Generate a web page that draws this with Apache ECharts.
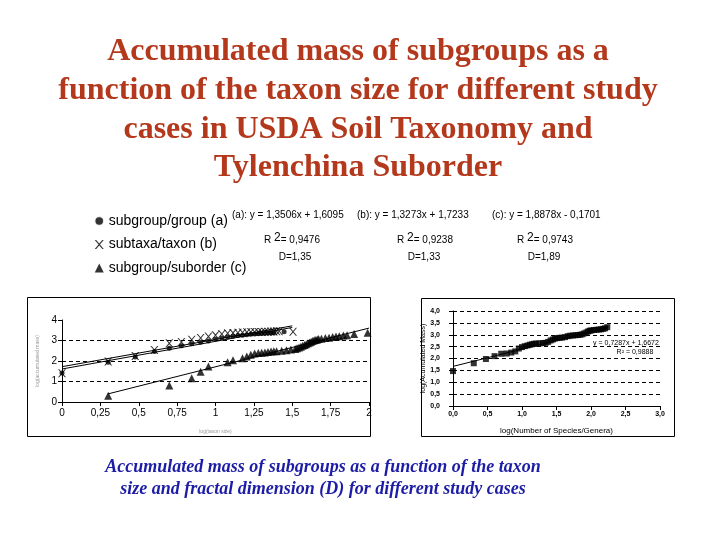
<!DOCTYPE html>
<html>
<head>
<meta charset="utf-8">
<title>Accumulated mass of subgroups</title>
<script src="https://cdn.jsdelivr.net/npm/echarts@6/dist/echarts.min.js"></script>
<style>
  html, body { margin: 0; padding: 0; background: #fff; }
  #chart { width: 720px; height: 540px; }
</style>
</head>
<body>
<div id="chart"></div>
<script>
// (a) subgroup/group
var groupX = [0, 0.301, 0.477, 0.602, 0.699, 0.778, 0.845, 0.903, 0.954, 1.0, 1.041, 1.079, 1.114, 1.146, 1.176, 1.204, 1.230, 1.255, 1.279, 1.301, 1.322, 1.342, 1.362, 1.380, 1.447];
var groupY = [1.42, 1.94, 2.20, 2.46, 2.62, 2.74, 2.84, 2.92, 2.98, 3.06, 3.12, 3.17, 3.21, 3.24, 3.26, 3.28, 3.30, 3.32, 3.33, 3.34, 3.35, 3.36, 3.37, 3.38, 3.43];
// (b) subtaxa/taxon
var taxonX = [0, 0.301, 0.477, 0.602, 0.699, 0.778, 0.845, 0.903, 0.954, 1.0, 1.041, 1.079, 1.114, 1.146, 1.176, 1.204, 1.230, 1.255, 1.279, 1.301, 1.322, 1.342, 1.362, 1.380, 1.398, 1.415, 1.505];
var taxonY = [1.40, 1.98, 2.24, 2.54, 2.86, 2.93, 3.04, 3.12, 3.19, 3.26, 3.32, 3.35, 3.37, 3.38, 3.39, 3.40, 3.41, 3.41, 3.42, 3.42, 3.43, 3.43, 3.44, 3.44, 3.45, 3.45, 3.43];
// (c) subgroup/suborder
var orderX = [0.301, 0.699, 0.845, 0.903, 0.954, 1.079, 1.114, 1.176, 1.204, 1.230, 1.255, 1.279, 1.301, 1.322, 1.342, 1.362, 1.380, 1.398, 1.431, 1.462, 1.491, 1.519, 1.531, 1.544, 1.556, 1.568, 1.580, 1.591, 1.602, 1.613, 1.623, 1.633, 1.643, 1.653, 1.663, 1.672, 1.690, 1.716, 1.740, 1.763, 1.785, 1.806, 1.833, 1.857, 1.903, 1.991];
var orderY = [0.31, 0.81, 1.16, 1.47, 1.73, 1.94, 2.04, 2.13, 2.22, 2.30, 2.36, 2.39, 2.40, 2.42, 2.44, 2.46, 2.47, 2.48, 2.50, 2.53, 2.56, 2.58, 2.62, 2.66, 2.70, 2.74, 2.78, 2.82, 2.86, 2.90, 2.94, 2.98, 3.01, 3.03, 3.05, 3.07, 3.09, 3.12, 3.14, 3.17, 3.19, 3.21, 3.24, 3.26, 3.32, 3.38];
// Tylenchina (right chart)
var tylX = [0, 0.301, 0.477, 0.602, 0.699, 0.778, 0.845, 0.903, 0.954, 1.0, 1.041, 1.079, 1.114, 1.146, 1.176, 1.204, 1.255, 1.301, 1.342, 1.380, 1.415, 1.447, 1.477, 1.505, 1.544, 1.580, 1.623, 1.663, 1.699, 1.740, 1.778, 1.813, 1.845, 1.875, 1.903, 1.934, 1.959, 1.982, 2.004, 2.041, 2.079, 2.114, 2.146, 2.176, 2.204, 2.236];
var tylY = [1.47, 1.80, 1.98, 2.10, 2.20, 2.21, 2.25, 2.30, 2.42, 2.48, 2.52, 2.55, 2.58, 2.60, 2.62, 2.63, 2.64, 2.65, 2.66, 2.70, 2.76, 2.80, 2.84, 2.86, 2.87, 2.88, 2.90, 2.94, 2.96, 2.97, 2.98, 2.99, 3.00, 3.02, 3.06, 3.10, 3.14, 3.17, 3.18, 3.20, 3.21, 3.22, 3.23, 3.25, 3.27, 3.32];

// regression lines: a, b, c, Tylenchina
var fitSlope = [1.3506, 1.3273, 1.8878, 0.7287];
var fitIntercept = [1.6095, 1.7233, -0.1701, 1.6672];
var fitRange = [[0, 1.5], [0, 1.5], [0.3, 2], [0, 2.25]];

var seriesNames = ['subgroup/group (a)', 'subtaxa/taxon (b)', 'subgroup/suborder (c)'];
var eqText = ['(a): y = 1,3506x + 1,6095', '(b): y = 1,3273x + 1,7233', '(c): y = 1,8878x - 0,1701'];
var r2Text = ['= 0,9476', '= 0,9238', '= 0,9743'];
var dText = ['D=1,35', 'D=1,33', 'D=1,89'];

var leftXLabels = ['0', '0,25', '0,5', '0,75', '1', '1,25', '1,5', '1,75', '2'];
var leftYLabels = ['0', '1', '2', '3', '4'];
var rightXLabels = ['0,0', '0,5', '1,0', '1,5', '2,0', '2,5', '3,0'];
var rightYLabels = ['0,0', '0,5', '1,0', '1,5', '2,0', '2,5', '3,0', '3,5', '4,0'];

var titleLines = ['Accumulated mass of subgroups as a', 'function of the taxon size for different study', 'cases in USDA Soil Taxonomy and', 'Tylenchina Suborder'];
var captionLines = ['Accumulated mass of subgroups as a function of the taxon', 'size and fractal dimension (D) for different study cases'];

function zip(xs, ys) {
  return xs.map(function (x, i) { return [x, ys[i]]; });
}
function fitLine(i) {
  var r = fitRange[i];
  return r.map(function (x) { return [x, +(fitSlope[i] * x + fitIntercept[i]).toFixed(4)]; });
}

var xMark = 'path://M0,0L1.6,0L5,4L8.4,0L10,0L5.8,5L10,10L8.4,10L5,6L1.6,10L0,10L4.2,5Z';

var myChart = echarts.init(document.getElementById('chart'));

var graphics = [];
titleLines.forEach(function (t, i) {
  graphics.push({
    type: 'text', x: 358, y: 52 + i * 38.7,
    style: { text: t, font: 'bold 32px "Liberation Serif"', fill: '#b3381c', align: 'center', verticalAlign: 'middle' }
  });
});
captionLines.forEach(function (t, i) {
  graphics.push({
    type: 'text', x: 323, y: 467 + i * 22,
    style: { text: t, font: 'italic bold 18px "Liberation Serif"', fill: '#1c1ca6', align: 'center', verticalAlign: 'middle' }
  });
});
var eqLeft = [232, 357, 492];
var r2Center = [292, 425, 545];
var dCenter = [295, 424, 544];
eqText.forEach(function (t, i) {
  graphics.push({
    type: 'text', x: eqLeft[i], y: 215,
    style: { text: t, font: '10px "Liberation Sans"', fill: '#000', align: 'left', verticalAlign: 'middle' }
  });
  graphics.push({
    type: 'text', x: r2Center[i], y: 239,
    style: {
      text: '{r|R }{s|2}{r|' + r2Text[i] + '}', align: 'center', verticalAlign: 'middle',
      rich: {
        r: { fontSize: 10, fontFamily: 'Liberation Sans', fill: '#000', padding: [3, 0, 0, 0] },
        s: { fontSize: 12, fontFamily: 'Liberation Sans', fill: '#000', padding: [0, 0, 3, 0] }
      }
    }
  });
  graphics.push({
    type: 'text', x: dCenter[i], y: 257,
    style: { text: dText[i], font: '10px "Liberation Sans"', fill: '#000', align: 'center', verticalAlign: 'middle' }
  });
});
// chart frames
graphics.push({ type: 'rect', shape: { x: 27.5, y: 297.5, width: 343, height: 139 }, style: { fill: 'none', stroke: '#000', lineWidth: 1 } });
graphics.push({ type: 'rect', shape: { x: 421.5, y: 298.5, width: 253, height: 138 }, style: { fill: 'none', stroke: '#000', lineWidth: 1 } });
// Tylenchina regression text
graphics.push({ type: 'text', x: 626, y: 343, style: { text: 'y = 0,7287x + 1,6672', font: '7px "Liberation Sans"', fill: '#000', align: 'center', verticalAlign: 'middle' } });
graphics.push({ type: 'text', x: 635, y: 352, style: { text: 'R² = 0,9888', font: '7px "Liberation Sans"', fill: '#000', align: 'center', verticalAlign: 'middle' } });

var axisBlack = { show: true, onZero: false, lineStyle: { color: '#000', width: 1 } };
var tickBlack = { show: true, length: 4, lineStyle: { color: '#000' } };

var option = {
  animation: false,
  backgroundColor: '#fff',
  textStyle: { fontFamily: 'Liberation Sans' },
  graphic: graphics,
  legend: {
    orient: 'vertical', left: 89, top: 209, itemGap: 9.5,
    itemWidth: 9, itemHeight: 9, selectedMode: false,
    textStyle: { fontSize: 14, color: '#000', fontFamily: 'Liberation Sans' },
    data: [
      { name: seriesNames[0], icon: 'circle', itemStyle: { borderWidth: 1.5, borderColor: '#fff' } },
      { name: seriesNames[1], icon: xMark },
      { name: seriesNames[2], icon: 'triangle' }
    ]
  },
  grid: [
    { left: 62, top: 320, width: 307, height: 82 },
    { left: 453, top: 311, width: 207, height: 95 }
  ],
  xAxis: [
    {
      type: 'value', gridIndex: 0, min: 0, max: 2, interval: 0.25,
      axisLine: axisBlack, axisTick: tickBlack, splitLine: { show: false },
      axisLabel: { fontSize: 10, color: '#000', margin: 6, formatter: function (v, i) { return leftXLabels[i]; } },
      name: 'log(taxon size)', nameLocation: 'middle', nameGap: 27,
      nameTextStyle: { fontSize: 5, color: '#999' }
    },
    {
      type: 'value', gridIndex: 1, min: 0, max: 3, interval: 0.5,
      axisLine: axisBlack, axisTick: tickBlack, splitLine: { show: false },
      axisLabel: { fontSize: 7, fontWeight: 'bold', color: '#000', margin: 5, formatter: function (v, i) { return rightXLabels[i]; } },
      name: 'log(Number of Species/Genera)', nameLocation: 'middle', nameGap: 21,
      nameTextStyle: { fontSize: 8, color: '#000' }
    }
  ],
  yAxis: [
    {
      type: 'value', gridIndex: 0, min: 0, max: 4, interval: 1,
      axisLine: axisBlack, axisTick: tickBlack,
      splitLine: { show: true, showMinLine: false, showMaxLine: false, lineStyle: { color: '#000', type: [4, 3] } },
      axisLabel: { fontSize: 10, color: '#000', margin: 5, formatter: function (v, i) { return leftYLabels[i]; } },
      name: 'log(accumulated mass)', nameLocation: 'middle', nameGap: 22,
      nameTextStyle: { fontSize: 5, color: '#999' }
    },
    {
      type: 'value', gridIndex: 1, min: 0, max: 4, interval: 0.5,
      axisLine: axisBlack, axisTick: tickBlack,
      splitLine: { show: true, showMinLine: false, lineStyle: { color: '#000', type: [4, 3] } },
      axisLabel: { fontSize: 7, fontWeight: 'bold', color: '#000', margin: 13, formatter: function (v, i) { return rightYLabels[i]; } },
      name: 'log(Acumulated Mass)', nameLocation: 'middle', nameGap: 23,
      nameTextStyle: { fontSize: 7, color: '#000' }
    }
  ],
  series: [
    { name: seriesNames[0], type: 'scatter', xAxisIndex: 0, yAxisIndex: 0, symbol: 'circle', symbolSize: 5, itemStyle: { color: '#000' }, data: zip(groupX, groupY) },
    { name: seriesNames[1], type: 'scatter', xAxisIndex: 0, yAxisIndex: 0, symbol: xMark, symbolSize: 8, itemStyle: { color: '#000' }, data: zip(taxonX, taxonY) },
    { name: seriesNames[2], type: 'scatter', xAxisIndex: 0, yAxisIndex: 0, symbol: 'triangle', symbolSize: 8, itemStyle: { color: '#000' }, data: zip(orderX, orderY) },
    { name: 'fit a', type: 'line', xAxisIndex: 0, yAxisIndex: 0, symbol: 'none', silent: true, lineStyle: { color: '#000', width: 1 }, data: fitLine(0) },
    { name: 'fit b', type: 'line', xAxisIndex: 0, yAxisIndex: 0, symbol: 'none', silent: true, lineStyle: { color: '#000', width: 1 }, data: fitLine(1) },
    { name: 'fit c', type: 'line', xAxisIndex: 0, yAxisIndex: 0, symbol: 'none', silent: true, lineStyle: { color: '#000', width: 1 }, data: fitLine(2) },
    { name: 'Tylenchina', type: 'scatter', xAxisIndex: 1, yAxisIndex: 1, symbol: 'rect', symbolSize: 6, itemStyle: { color: '#000' }, data: zip(tylX, tylY) },
    { name: 'fit Tylenchina', type: 'line', xAxisIndex: 1, yAxisIndex: 1, symbol: 'none', silent: true, lineStyle: { color: '#000', width: 1 }, data: fitLine(3) }
  ]
};
myChart.setOption(option);
</script>
</body>
</html>
